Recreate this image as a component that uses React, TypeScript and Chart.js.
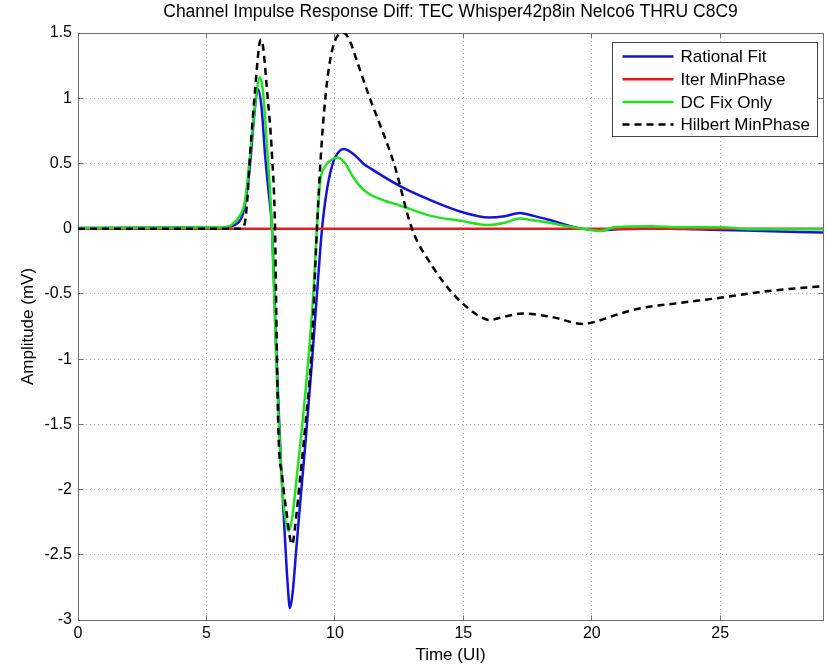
import React, { useEffect, useRef } from 'react';
import { Chart, registerables } from 'chart.js';

Chart.register(...registerables);

const FONT = '"Liberation Sans", Arial, Helvetica, sans-serif';

const titleText = 'Channel Impulse Response Diff: TEC Whisper42p8in Nelco6 THRU C8C9';
const xTitle = 'Time (UI)';
const yTitle = 'Amplitude (mV)';

const seriesNames = ['Rational Fit', 'Iter MinPhase', 'DC Fix Only', 'Hilbert MinPhase'];

const rationalT = [0, 5.5, 6.0, 6.2, 6.4, 6.55, 6.7, 6.85, 7.0, 7.15, 7.28, 7.42, 7.55, 7.75, 7.9, 8.05, 8.17, 8.25, 8.35, 8.5, 8.65, 8.85, 9.1, 9.34, 9.5, 9.7, 9.95, 10.15, 10.35, 10.6, 10.85, 11.1, 11.4, 12.5, 13.7, 14.9, 16.0, 16.6, 17.2, 17.7, 18.4, 19.4, 20.3, 21, 22, 23, 24, 25, 26, 27, 28, 29];
const rationalV = [0.005, 0.01, 0.02, 0.04, 0.1, 0.25, 0.5, 0.85, 1.07, 0.92, 0.57, 0.28, 0.0, -1.1, -1.8, -2.35, -2.75, -2.91, -2.8, -2.45, -2.1, -1.65, -1.04, -0.4, 0.0, 0.31, 0.52, 0.59, 0.61, 0.59, 0.55, 0.5, 0.46, 0.33, 0.22, 0.13, 0.085, 0.095, 0.12, 0.1, 0.064, 0.008, -0.013, -0.005, 0, 0, -0.005, -0.01, -0.015, -0.02, -0.025, -0.03];

const iterT = [0, 29];
const iterV = [0, 0];

const dcFixT = [0, 5.5, 5.9, 6.1, 6.3, 6.5, 6.7, 6.9, 7.08, 7.2, 7.35, 7.55, 7.72, 7.86, 8.0, 8.2, 8.35, 8.5, 8.83, 9.15, 9.3, 9.42, 9.6, 9.8, 10.1, 10.4, 10.7, 11.0, 11.3, 12.0, 12.5, 13.7, 14.9, 16.0, 16.6, 17.2, 17.7, 18.4, 19.0, 19.65, 20.3, 20.95, 22.3, 23.4, 25, 26.2, 29];
const dcFixV = [0.005, 0.01, 0.02, 0.05, 0.1, 0.21, 0.57, 0.96, 1.16, 1.05, 0.65, 0.0, -1.04, -1.68, -2.1, -2.32, -2.2, -1.93, -1.3, -0.53, 0.0, 0.35, 0.47, 0.52, 0.545, 0.5, 0.4, 0.32, 0.27, 0.21, 0.18, 0.1, 0.06, 0.028, 0.045, 0.077, 0.065, 0.043, 0.02, 0.0, -0.018, 0.013, 0.018, 0.01, 0.01, -0.005, -0.005];

const hilbertT = [0, 6.35, 6.5, 6.6, 6.7, 6.9, 7.05, 7.12, 7.2, 7.35, 7.55, 7.67, 7.73, 7.8, 7.95, 8.1, 8.33, 8.5, 8.6, 8.83, 9.1, 9.3, 9.42, 9.55, 9.75, 10.0, 10.35, 10.6, 10.85, 11.36, 11.75, 12.3, 13.0, 13.8, 14.6, 15.25, 15.7, 16.0, 16.5, 17.3, 18.5, 19.65, 20.2, 20.8, 21.9, 23.4, 25, 26.8, 29];
const hilbertV = [0, 0, 0.05, 0.25, 0.57, 1.08, 1.4, 1.45, 1.4, 1.08, 0.57, 0.0, -0.8, -1.55, -1.9, -2.15, -2.42, -2.2, -2.0, -1.55, -0.91, 0.0, 0.45, 0.83, 1.21, 1.44, 1.5, 1.43, 1.29, 1.0, 0.8, 0.5, 0.0, -0.29, -0.5, -0.62, -0.68, -0.7, -0.68, -0.65, -0.68, -0.73, -0.71, -0.67, -0.61, -0.57, -0.53, -0.48, -0.44];

const xMin = 0;
const xMax = 29;
const xStep = 5;
const yMin = -3;
const yMax = 1.5;
const yStep = 0.5;

const toPoints = (t: number[], v: number[]) => t.map((tt, i) => ({ x: tt, y: v[i] }));
const align = (p: number) => Math.round(p - 0.5) + 0.5;

const framePlugin = {
  id: 'matlabFrame',
  beforeDatasetsDraw(chart: any) {
    const { ctx, chartArea, scales } = chart;
    const l = align(chartArea.left);
    const r = align(chartArea.right);
    const t = align(chartArea.top);
    const b = align(chartArea.bottom);
    ctx.save();
    ctx.setLineDash([]);
    ctx.strokeStyle = '#6e6e6e';
    ctx.lineWidth = 1;
    ctx.strokeRect(l, t, r - l, b - t);
    const tl = 5;
    ctx.beginPath();
    scales.x.ticks.forEach((tk: any) => {
      const px = align(scales.x.getPixelForValue(tk.value));
      ctx.moveTo(px, b);
      ctx.lineTo(px, b - tl);
      ctx.moveTo(px, t);
      ctx.lineTo(px, t + tl);
    });
    scales.y.ticks.forEach((tk: any) => {
      const py = align(scales.y.getPixelForValue(tk.value));
      ctx.moveTo(l, py);
      ctx.lineTo(l + tl, py);
      ctx.moveTo(r, py);
      ctx.lineTo(r - tl, py);
    });
    ctx.stroke();
    ctx.restore();
  },
  afterDatasetsDraw(chart: any) {
    const { ctx, chartArea } = chart;
    const boxW = 205;
    const boxH = 94;
    const bx = Math.round(chartArea.right) - 6 - boxW + 0.5;
    const by = Math.round(chartArea.top) + 9 + 0.5;
    ctx.save();
    ctx.fillStyle = '#ffffff';
    ctx.fillRect(bx, by, boxW, boxH);
    ctx.setLineDash([]);
    ctx.strokeStyle = '#444';
    ctx.lineWidth = 1;
    ctx.strokeRect(bx, by, boxW, boxH);
    ctx.font = '17px ' + FONT;
    ctx.textBaseline = 'middle';
    ctx.textAlign = 'left';
    chart.data.datasets.forEach((ds: any, i: number) => {
      const cy = by + 14 + i * 22.7;
      ctx.save();
      ctx.strokeStyle = ds.borderColor;
      ctx.lineWidth = ds.borderWidth;
      ctx.setLineDash(ds.borderDash || []);
      ctx.beginPath();
      ctx.moveTo(bx + 10, cy);
      ctx.lineTo(bx + 61, cy);
      ctx.stroke();
      ctx.restore();
      ctx.fillStyle = '#000';
      ctx.fillText(ds.label, bx + 68, cy + 1);
    });
    ctx.restore();
  },
  afterDraw(chart: any) {
    const { ctx, chartArea } = chart;
    ctx.save();
    ctx.font = '17.5px ' + FONT;
    ctx.fillStyle = '#000';
    ctx.textAlign = 'center';
    ctx.textBaseline = 'middle';
    ctx.fillText(titleText, (chartArea.left + chartArea.right) / 2, 12);
    ctx.restore();
  },
};

export default function App() {
  const ref = useRef<HTMLCanvasElement | null>(null);
  useEffect(() => {
    if (!ref.current) return;
    const common = { pointRadius: 0, fill: false, cubicInterpolationMode: 'monotone' as const };
    const chart = new Chart(ref.current, {
      type: 'line',
      data: {
        datasets: [
          { ...common, label: seriesNames[0], data: toPoints(rationalT, rationalV), borderColor: '#1414d8', borderWidth: 2.5, order: 4 },
          { ...common, label: seriesNames[1], data: toPoints(iterT, iterV), borderColor: '#ee1a1a', borderWidth: 2.5, order: 3 },
          { ...common, label: seriesNames[2], data: toPoints(dcFixT, dcFixV), borderColor: '#22e022', borderWidth: 2.5, order: 2 },
          { ...common, label: seriesNames[3], data: toPoints(hilbertT, hilbertV), borderColor: '#000000', borderWidth: 2.5, borderDash: [7, 5], order: 1 },
        ],
      },
      options: {
        responsive: false,
        animation: false,
        parsing: false as any,
        layout: { padding: { top: 33, right: 4, left: 0, bottom: 0 } },
        plugins: { legend: { display: false }, tooltip: { enabled: false }, title: { display: false } },
        scales: {
          x: {
            type: 'linear',
            min: xMin,
            max: xMax,
            afterFit: (s: any) => { s.height = 47; },
            ticks: {
              stepSize: xStep,
              includeBounds: false,
              color: '#000',
              padding: 4,
              maxRotation: 0,
              font: { family: FONT, size: 16 },
              callback: (v: any) => String(v),
            },
            grid: { color: '#b4b4b4', lineWidth: 1, drawTicks: false },
            border: { display: false, dash: [1, 3] },
            title: { display: true, text: xTitle, color: '#000', font: { family: FONT, size: 17 }, padding: { top: 0, bottom: 1 } },
          },
          y: {
            type: 'linear',
            min: yMin,
            max: yMax,
            afterFit: (s: any) => { s.width = 78; },
            ticks: {
              stepSize: yStep,
              includeBounds: false,
              color: '#000',
              padding: 6,
              font: { family: FONT, size: 16 },
              callback: (v: any) => String(Math.round(Number(v) * 10) / 10),
            },
            grid: { color: '#b4b4b4', lineWidth: 1, drawTicks: false },
            border: { display: false, dash: [1, 3] },
            title: { display: true, text: yTitle, color: '#000', font: { family: FONT, size: 17 }, padding: { top: 18, bottom: 0 } },
          },
        },
      },
      plugins: [framePlugin],
    });
    return () => chart.destroy();
  }, []);
  return (
    <div style={{ position: 'fixed', left: 0, top: 0, width: 827, height: 667, background: '#fff' }}>
      <canvas ref={ref} width={827} height={667} style={{ display: 'block' }} />
    </div>
  );
}
